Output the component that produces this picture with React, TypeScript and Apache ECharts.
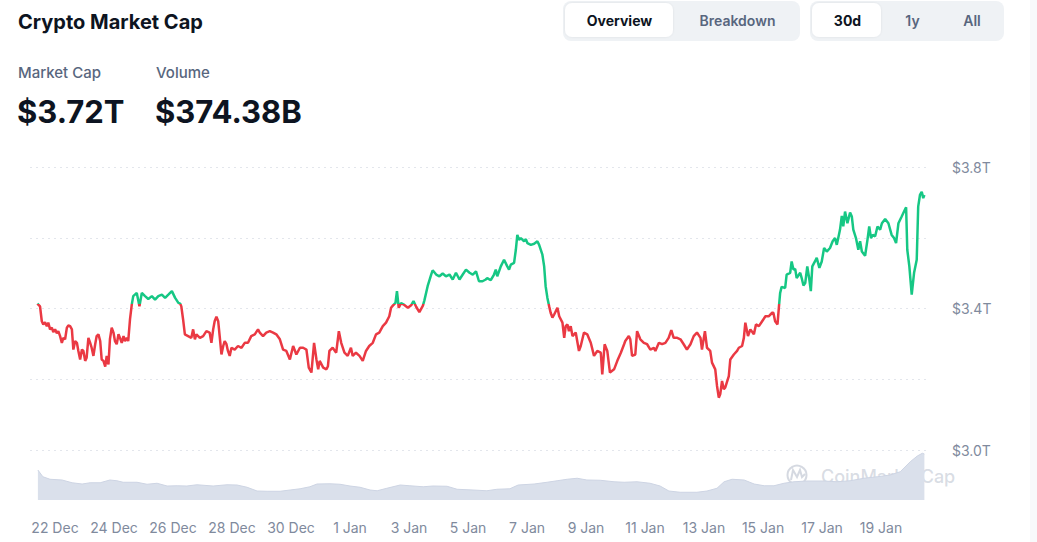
import React, { useEffect, useRef } from "react";
import * as echarts from "echarts";

// Time in days from 22 Dec 00:00, market cap in billions USD
const times = [
  -0.60,-0.51,-0.45,-0.40,-0.34,-0.28,-0.23,-0.17,-0.11,-0.06,
  0.00,0.06,0.11,0.17,0.23,0.28,0.34,0.40,0.45,0.51,
  0.57,0.62,0.68,0.74,0.79,0.85,0.91,0.96,1.02,1.07,
  1.13,1.19,1.24,1.30,1.36,1.41,1.47,1.53,1.58,1.64,
  1.70,1.75,1.81,1.86,1.92,1.98,2.03,2.09,2.15,2.20,
  2.26,2.32,2.37,2.43,2.48,2.54,2.60,2.65,2.77,2.86,
  2.94,3.05,3.16,3.28,3.39,3.50,3.62,3.73,3.84,3.96,
  4.07,4.18,4.24,
  4.28,4.34,4.40,4.51,4.62,4.68,4.74,
  4.79,4.91,5.02,5.13,5.24,5.30,5.36,5.41,5.47,5.53,
  5.58,5.64,5.70,5.75,5.81,5.86,5.92,5.98,6.09,6.20,
  6.32,6.43,6.54,6.65,6.77,6.88,6.94,7.05,7.16,7.28,
  7.39,7.50,7.62,7.73,7.84,7.96,8.07,8.18,8.30,8.41,
  8.52,8.60,8.69,8.78,8.86,8.92,8.97,9.09,9.20,9.25,
  9.30,9.41,9.53,9.62,9.70,9.81,9.92,10.03,10.09,10.20,
  10.32,10.43,10.54,10.65,10.77,10.88,10.99,11.11,11.22,11.33,
  11.39,11.45,11.54,11.59,11.65,11.73,11.84,11.96,12.07,12.15,
  12.24,12.35,12.47,12.52,12.63,12.75,12.80,12.92,13.03,13.14,
  13.25,13.37,13.48,13.59,13.71,13.82,13.93,14.05,14.16,14.27,
  14.37,14.49,14.60,14.65,14.77,14.88,14.94,14.99,15.11,15.22,
  15.33,15.39,15.45,15.56,15.62,15.67,15.73,15.79,15.90,15.96,
  16.01,16.13,16.24,16.35,16.41,16.52,16.58,16.63,16.69,16.75,
  16.80,16.86,16.92,17.03,17.09,17.20,17.26,17.31,17.37,17.42,
  17.48,17.54,17.65,17.76,17.82,17.93,18.04,18.16,18.27,18.38,
  18.50,18.55,18.63,18.72,18.81,18.95,19.06,19.18,19.29,
  19.33,19.45,19.50,19.56,19.67,19.73,19.84,19.96,20.07,20.18,20.30,
  20.35,20.47,20.58,20.69,20.80,20.89,20.97,21.09,21.20,21.31,
  21.42,21.54,21.65,21.76,21.88,21.93,22.03,22.10,22.21,22.27,
  22.38,22.44,22.50,22.55,22.61,22.67,22.72,22.84,22.89,23.01,
  23.12,23.18,23.29,23.35,23.40,23.49,23.57,23.69,23.76,23.86,
  23.97,24.08,24.19,24.31,
  24.35,24.41,24.49,24.54,24.58,24.63,
  24.75,24.80,24.92,24.97,25.03,25.09,25.14,25.26,25.31,25.37,
  25.43,25.50,25.57,25.62,25.67,25.76,25.82,25.91,25.99,26.07,
  26.16,26.27,26.36,26.44,26.50,26.55,26.61,26.67,26.72,26.78,
  26.86,26.95,27.01,27.06,27.15,27.23,27.29,27.35,27.46,27.54,
  27.60,27.66,27.72,27.80,27.88,27.97,28.03,28.14,28.25,28.36,
  28.44,28.51,28.59,28.70,28.78,28.85,28.89,28.96,29.04,29.12,
  29.21,29.26,29.32,29.38,29.43,29.47,
];

const marketCap = [
  3414,3406,3364,3355,3361,3350,3360,3341,3346,3333,
  3341,3330,3336,3322,3303,3317,3313,3346,3352,3350,
  3341,3284,3308,3303,3280,3256,3284,3280,3252,3261,
  3317,3303,3289,3266,3299,3322,3327,3308,3256,3252,
  3236,3266,3242,3313,3346,3332,3308,3299,3327,3317,
  3303,3322,3308,3317,3308,3369,3411,3435,3444,3406,
  3444,3435,3427,3435,3425,3435,3439,3430,3439,3449,
  3430,3416,3414,
  3406,3369,3327,3322,3317,3341,3313,
  3327,3317,3322,3336,3332,3303,3341,3364,3377,3364,
  3322,3270,3294,3308,3299,3280,3266,3289,3284,3294,
  3289,3303,3303,3322,3327,3341,3332,3322,3332,3336,
  3332,3327,3313,3284,3280,3256,3294,3270,3289,3289,
  3284,3233,3219,3303,3256,3228,3252,3233,3228,3237,
  3280,3289,3275,3336,3303,3275,3266,3289,3266,3275,
  3266,3252,3280,3294,3303,3327,3332,3350,3360,3378,
  3402,3408,3416,3449,3402,3415,3410,3402,3409,3421,
  3405,3390,3408,3423,3463,3496,3508,3496,3491,3499,
  3491,3496,3482,3501,3482,3496,3510,3501,3496,3505,
  3477,3477,3482,3486,3480,3496,3510,3491,3519,3538,
  3519,3510,3524,3529,3566,3608,3594,3599,3590,3596,
  3585,3580,3583,3590,3580,3552,3519,3463,3430,3406,
  3388,3374,3383,3402,3378,3360,3317,3350,3355,3336,
  3350,3322,3332,3280,3294,3332,3327,3303,3266,3280,
  3275,3214,3299,3280,3219,3228,3252,3275,3299,
  3308,3322,3313,3266,3270,3336,3313,3303,3299,3284,3289,
  3280,3303,3299,3303,3317,3339,3317,3317,3313,3299,
  3284,3299,3322,3332,3317,3284,3336,3289,3280,3247,
  3228,3181,3148,3158,3195,3172,3177,3209,3256,3270,
  3280,3289,3294,3317,3360,3322,3341,3327,3355,3350,
  3364,3378,3378,3388,
  3388,3364,3355,3406,3444,3461,
  3458,3496,3501,3533,3510,3512,3486,3501,3486,3465,
  3472,3519,3482,3449,3519,3533,3543,3515,3533,3571,
  3561,3571,3590,3599,3580,3599,3623,3662,3632,3674,
  3641,3671,3660,3623,3599,3566,3590,3561,3549,3594,
  3632,3599,3608,3604,3632,3623,3641,3653,3641,3608,
  3599,3585,3641,3660,3674,3686,3566,3519,3439,3501,
  3538,3688,3721,3730,3712,3721,
];

// Volume: time in days from 22 Dec, value in billions USD
const volumeTimes = [
  -0.58,-0.41,-0.17,0.24,0.58,0.92,1.19,1.53,1.86,2.10,
  2.31,2.78,3.12,3.46,3.80,4.14,4.47,4.81,5.36,5.83,
  6.17,6.51,6.85,7.19,7.63,7.97,8.31,8.64,8.88,9.32,
  9.66,10.00,10.34,10.68,10.92,11.25,11.70,12.03,12.48,12.81,
  13.29,13.63,14.17,14.64,14.98,15.42,15.70,16.24,16.68,17.02,
  17.36,17.70,18.03,18.48,18.95,19.29,19.73,20.17,20.51,20.81,
  21.19,21.76,22.10,22.44,22.68,22.95,23.36,23.70,24.04,24.37,
  24.71,25.05,25.49,26.07,26.51,26.95,27.42,27.87,28.31,28.65,
  28.99,29.23,29.40,29.47,
];
const volumes = [
  240,186,166,160,138,128,138,138,160,154,
  142,142,126,134,112,114,112,122,112,122,
  120,102,72,70,70,80,90,106,128,130,
  126,112,102,80,74,94,120,114,106,112,
  110,86,80,74,86,90,120,128,142,154,
  166,174,160,158,146,142,146,134,112,72,
  62,62,72,94,146,166,160,128,114,114,
  134,146,152,152,146,154,174,186,200,226,
  306,352,374,368,
];

const xTickDays = [0, 2, 4, 6, 8, 10, 12, 14, 16, 18, 20, 22, 24, 26, 28];
const xTickLabels = [
  "22 Dec", "24 Dec", "26 Dec", "28 Dec", "30 Dec", "1 Jan", "3 Jan", "5 Jan",
  "7 Jan", "9 Jan", "11 Jan", "13 Jan", "15 Jan", "17 Jan", "19 Jan",
];
const yLabelValues = [3000, 3400, 3800];

const headline = { title: "Crypto Market Cap", capLabel: "Market Cap", capValue: "$3.72T", volLabel: "Volume", volValue: "$374.38B" };

const RED = "#ea3943";
const GREEN = "#16c784";
const THRESHOLD = 3412;
const FONT = "Inter, 'Noto Sans', sans-serif";
const W = 1037;
const H = 542;

export default function App() {
  const ref = useRef<HTMLDivElement>(null);
  useEffect(() => {
    if (!ref.current) return;
    const chart = echarts.init(ref.current, null, { renderer: "svg" });
    const n = Math.min(times.length, marketCap.length);
    const lineData: number[][] = [];
    for (let i = 0; i < n; i++) lineData.push([times[i], marketCap[i]]);
    const vn = Math.min(volumeTimes.length, volumes.length);
    const volData: number[][] = [];
    for (let i = 0; i < vn; i++) volData.push([volumeTimes[i], volumes[i]]);

    // Day axis: 29.5 px per day, 22 Dec at x = 55
    const pxPerDay = 29.5;
    const day0X = 55;
    const xMin = -0.85;
    const xMax = 29.66;
    const labelAxisMin = -1;
    const labelGridLeft = day0X + labelAxisMin * pxPerDay;

    const txt = (x: number, y: number, text: string, font: string, fill: string, align = "left") => ({
      type: "text",
      x,
      y,
      silent: true,
      style: { text, font, fill, align, verticalAlign: "middle" },
    });

    chart.setOption({
      animation: false,
      backgroundColor: "#ffffff",
      textStyle: { fontFamily: FONT },
      grid: [
        { left: 30, right: 107, top: 167, height: 283 },
        { left: labelGridLeft, right: 107, top: 440, bottom: 42 },
      ],
      xAxis: [
        {
          type: "value", gridIndex: 0, min: xMin, max: xMax, show: false,
          splitLine: { show: false },
        },
        {
          type: "value", gridIndex: 1, min: labelAxisMin, max: xMax, interval: 1,
          axisLine: { show: false }, axisTick: { show: false }, splitLine: { show: false },
          axisLabel: {
            margin: 20,
            color: "#808a9d",
            fontSize: 14,
            fontFamily: FONT,
            showMaxLabel: false,
            formatter: (v: number) => {
              const r = Math.round(v);
              const idx = xTickDays.indexOf(r);
              return idx >= 0 && Math.abs(v - r) < 1e-6 ? xTickLabels[idx] : "";
            },
          },
        },
      ],
      yAxis: [
        {
          type: "value", gridIndex: 0, position: "right", min: 3000, max: 3800, interval: 200,
          axisLine: { show: false }, axisTick: { show: false },
          splitLine: { show: true, lineStyle: { color: "#e3e6ec", type: [2, 4], width: 1 } },
          axisLabel: {
            margin: 22,
            color: "#808a9d",
            fontSize: 14,
            fontFamily: FONT,
            formatter: (v: number) => (yLabelValues.indexOf(v) >= 0 ? "$" + (v / 1000).toFixed(1) + "T" : ""),
          },
        },
        {
          type: "value", gridIndex: 1, min: 0, max: 480, show: false, splitLine: { show: false },
        },
      ],
      series: [
        {
          id: "cap",
          type: "line",
          xAxisIndex: 0,
          yAxisIndex: 0,
          data: lineData,
          showSymbol: false,
          symbol: "none",
          lineStyle: { width: 2.5, color: RED },
          z: 5,
        },
        {
          type: "line",
          xAxisIndex: 1,
          yAxisIndex: 1,
          data: volData,
          showSymbol: false,
          symbol: "none",
          lineStyle: { width: 1, color: "#cdd4e3" },
          areaStyle: { color: "#dae0eb", opacity: 1 },
          z: 1,
        },
      ],
      graphic: [
        { type: "rect", shape: { x: 1030, y: 0, width: 7, height: H }, style: { fill: "#f8f9fb" }, silent: true },
        txt(18, 22, headline.title, "700 20px " + FONT, "#0d1421"),
        txt(18, 72, headline.capLabel, "500 15px " + FONT, "#58667e"),
        txt(156, 72, headline.volLabel, "500 15px " + FONT, "#58667e"),
        txt(17, 111, headline.capValue, "700 31px " + FONT, "#0d1421"),
        txt(155, 111, headline.volValue, "700 31px " + FONT, "#0d1421"),
        { type: "rect", shape: { x: 563, y: 1, width: 237, height: 40, r: 8 }, style: { fill: "#eff2f5" }, silent: true },
        { type: "rect", shape: { x: 565, y: 3, width: 108, height: 34, r: 7 }, style: { fill: "#ffffff", shadowBlur: 2, shadowColor: "rgba(0,0,0,0.08)" }, silent: true },
        txt(619.5, 20, "Overview", "700 14px " + FONT, "#0d1421", "center"),
        txt(737.5, 20, "Breakdown", "600 14px " + FONT, "#58667e", "center"),
        { type: "rect", shape: { x: 810, y: 1, width: 194, height: 40, r: 8 }, style: { fill: "#eff2f5" }, silent: true },
        { type: "rect", shape: { x: 812, y: 3, width: 69, height: 34, r: 7 }, style: { fill: "#ffffff", shadowBlur: 2, shadowColor: "rgba(0,0,0,0.08)" }, silent: true },
        txt(847.5, 20, "30d", "700 14px " + FONT, "#0d1421", "center"),
        txt(912.5, 20, "1y", "600 14px " + FONT, "#58667e", "center"),
        txt(972, 20, "All", "600 14px " + FONT, "#58667e", "center"),
        {
          type: "group",
          silent: true,
          z: 100,
          children: [
            { type: "circle", shape: { cx: 797, cy: 475, r: 9.5 }, style: { fill: "none", stroke: "rgba(185,192,205,0.6)", lineWidth: 2 } },
            { type: "polyline", shape: { points: [[791, 480], [793, 470], [797, 477], [800, 470], [802, 477], [805, 474]] }, style: { fill: "none", stroke: "rgba(185,192,205,0.6)", lineWidth: 2 } },
            { type: "text", x: 821, y: 476, style: { text: "CoinMarketCap", font: "500 18px " + FONT, fill: "rgba(185,192,205,0.55)", verticalAlign: "middle" } },
          ],
        },
      ],
    });

    // Colour the line green above the threshold and red below, using the axis scale.
    const yPix = chart.convertToPixel({ yAxisIndex: 0 } as any, THRESHOLD) as unknown as number;
    if (typeof yPix === "number" && isFinite(yPix)) {
      const off = Math.max(0, Math.min(1, yPix / H));
      chart.setOption({
        series: [
          {
            id: "cap",
            lineStyle: {
              color: new echarts.graphic.LinearGradient(0, 0, 0, H, [
                { offset: 0, color: GREEN },
                { offset: off, color: GREEN },
                { offset: off, color: RED },
                { offset: 1, color: RED },
              ], true),
            },
          },
        ],
      });
    }
    return () => chart.dispose();
  }, []);

  return (
    <div
      ref={ref}
      style={{ position: "fixed", left: 0, top: 0, width: W, height: H, background: "#fff" }}
    />
  );
}
